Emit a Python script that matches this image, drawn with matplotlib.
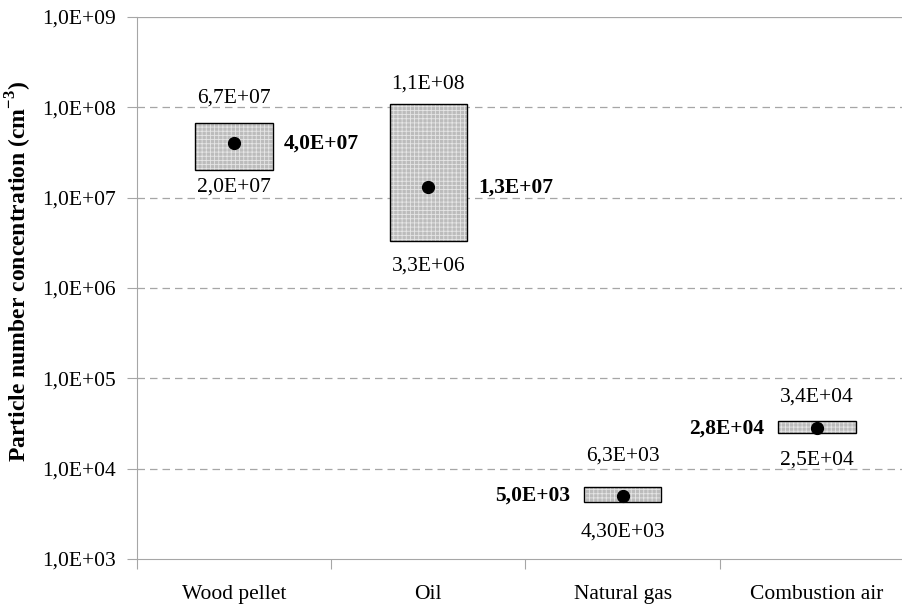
import numpy as np
import matplotlib.pyplot as plt
from matplotlib.patches import Rectangle

plt.rcParams["font.family"] = ["Liberation Serif", "DejaVu Serif"]
plt.rcParams["mathtext.fontset"] = "custom"
plt.rcParams["mathtext.rm"] = "Liberation Serif"
plt.rcParams["mathtext.bf"] = "Liberation Serif:bold"
plt.rcParams["hatch.linewidth"] = 0.6

# ── Data ─────────────────────────────────────────────────────────────────────
categories = ["Wood pellet", "Oil", "Natural gas", "Combustion air"]
low_vals = [2.0e7, 3.3e6, 4.3e3, 2.5e4]
high_vals = [6.7e7, 1.1e8, 6.3e3, 3.4e4]
mean_vals = [4.0e7, 1.3e7, 5.0e3, 2.8e4]
low_labels = ["2,0E+07", "3,3E+06", "4,30E+03", "2,5E+04"]
high_labels = ["6,7E+07", "1,1E+08", "6,3E+03", "3,4E+04"]
mean_labels = ["4,0E+07", "1,3E+07", "5,0E+03", "2,8E+04"]
mean_side = ["right", "right", "left", "left"]
y_ticks = [1e3, 1e4, 1e5, 1e6, 1e7, 1e8, 1e9]
y_ticklabels = ["1,0E+03", "1,0E+04", "1,0E+05", "1,0E+06",
                "1,0E+07", "1,0E+08", "1,0E+09"]

# label offsets (points) above / below the boxes
top_off = [11, 7, 15, 10]
bot_off = [-5, -11, -15, -13]

# ── Plot ─────────────────────────────────────────────────────────────────────
fig = plt.figure(figsize=(9.03, 6.07), dpi=100)
ax = fig.add_axes([137 / 903, 48 / 607, 777 / 903, 542 / 607])
ax.set_yscale("log")
ax.set_ylim(1e3, 1e9)
ax.set_xlim(0, 4)

grey = "#a6a6a6"
for yv in y_ticks[1:-1]:
    ax.axhline(yv, color=grey, lw=0.9, ls=(0, (6, 4)), zorder=0)
ax.axhline(1e9, color=grey, lw=0.9, zorder=0)

bw = 0.4
fs = 15.5
for i, cat in enumerate(categories):
    xc = i + 0.5
    lo, hi, mu = low_vals[i], high_vals[i], mean_vals[i]
    ax.add_patch(Rectangle((xc - bw / 2, lo), bw, hi - lo, facecolor="#bcbcbc",
                           edgecolor="#e6e6e6", hatch="++++", lw=0, zorder=2))
    ax.add_patch(Rectangle((xc - bw / 2, lo), bw, hi - lo, facecolor="none",
                           edgecolor="black", lw=1.0, zorder=3))
    ax.plot([xc], [mu], "o", color="black", ms=8.5, zorder=4)
    ax.annotate(high_labels[i], (xc, hi), xytext=(0, top_off[i]), textcoords="offset points",
                ha="center", va="bottom", fontsize=fs)
    ax.annotate(low_labels[i], (xc, lo), xytext=(0, bot_off[i]), textcoords="offset points",
                ha="center", va="top", fontsize=fs)
    if mean_side[i] == "right":
        ax.annotate(mean_labels[i], (xc + bw / 2, mu), xytext=(8, 0),
                    textcoords="offset points", ha="left", va="center",
                    fontsize=fs, fontweight="bold")
    else:
        ax.annotate(mean_labels[i], (xc - bw / 2, mu), xytext=(-10, 0),
                    textcoords="offset points", ha="right", va="center",
                    fontsize=fs, fontweight="bold")

ax.set_yticks(y_ticks)
ax.set_yticklabels(y_ticklabels, fontsize=fs)
ax.yaxis.set_minor_locator(plt.NullLocator())
ax.tick_params(axis="y", which="major", direction="out", length=7, color=grey, pad=8)

ax.set_xticks([0, 1, 2, 3, 4])
ax.set_xticklabels([])
ax.set_xticks(np.arange(len(categories)) + 0.5, minor=True)
ax.set_xticklabels(categories, minor=True, fontsize=fs)
ax.tick_params(axis="x", which="major", direction="out", length=7, color=grey)
ax.tick_params(axis="x", which="minor", length=0, pad=18.5)

for side in ["top", "right"]:
    ax.spines[side].set_visible(False)
for side in ["left", "bottom"]:
    ax.spines[side].set_color(grey)

ax.set_ylabel("Particle number concentration (cm$^{\\mathbf{-3}}$)",
              fontsize=17, fontweight="bold")
ax.yaxis.set_label_coords(-0.132, 0.53)

plt.savefig("out.png", dpi=100)
